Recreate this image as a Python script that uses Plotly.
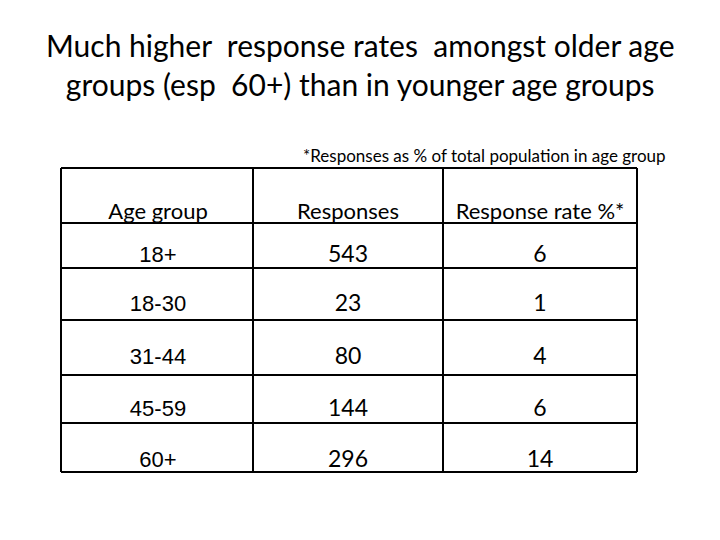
import plotly.graph_objects as go

# ---- data ----
headers = ["Age group", "Responses", "Response rate %*"]
age_groups = ["18+", "18-30", "31-44", "45-59", "60+"]
responses = [543, 23, 80, 144, 296]
response_rate = [6, 1, 4, 6, 14]

title_text = "Much higher \u00a0response rates \u00a0amongst older age<br>groups (esp \u00a060+) than in younger age groups"
note_text = "*Responses as % of total population in age group"

# ---- layout (pixel-space; page body has an 8px offset) ----
OFF = 8
col_edges = [61, 253, 443, 637]
row_edges = [168, 223, 268, 320, 375, 423, 472]
col_centers = [158, 348, 540]
header_y = 213
row_text_y = [256, 305, 358, 410, 461]

fig = go.Figure()

fig.add_trace(go.Scatter(
    x=col_centers, y=[header_y] * 3, text=headers, mode="text",
    textposition="middle center",
    textfont=dict(family="Lato", size=22, color="black"),
    hoverinfo="skip", showlegend=False))

fig.add_trace(go.Scatter(
    x=[col_centers[0]] * len(age_groups), y=row_text_y, text=age_groups,
    mode="text", textposition="middle center",
    textfont=dict(family="Liberation Sans, Arial", size=22, color="black"),
    hoverinfo="skip", showlegend=False))

fig.add_trace(go.Scatter(
    x=[col_centers[1]] * len(responses), y=row_text_y,
    text=[str(v) for v in responses], mode="text", textposition="middle center",
    textfont=dict(family="Lato", size=23, color="black"),
    hoverinfo="skip", showlegend=False))

fig.add_trace(go.Scatter(
    x=[col_centers[2]] * len(response_rate), y=row_text_y,
    text=[str(v) for v in response_rate], mode="text", textposition="middle center",
    textfont=dict(family="Lato", size=23, color="black"),
    hoverinfo="skip", showlegend=False))

shapes = []
for x in col_edges:
    shapes.append(dict(type="line", x0=x, x1=x, y0=row_edges[0], y1=row_edges[-1],
                       xref="x", yref="y", line=dict(color="black", width=2)))
for y in row_edges:
    shapes.append(dict(type="line", x0=col_edges[0], x1=col_edges[-1], y0=y, y1=y,
                       xref="x", yref="y", line=dict(color="black", width=2)))

fig.update_layout(
    width=720, height=540,
    margin=dict(l=0, r=0, t=0, b=0),
    paper_bgcolor="white", plot_bgcolor="white",
    xaxis=dict(range=[OFF, 720 + OFF], visible=False, fixedrange=True),
    yaxis=dict(range=[540 + OFF, OFF], visible=False, fixedrange=True),
    shapes=shapes,
    annotations=[
        dict(text=title_text, x=360, y=64, xref="x", yref="y",
             showarrow=False, font=dict(family="Lato", size=30, color="black"),
             align="center"),
        dict(text=note_text, x=484, y=155, xref="x", yref="y", xanchor="center",
             showarrow=False, font=dict(family="Lato", size=17, color="black")),
    ],
)

fig.write_html("out.html")
